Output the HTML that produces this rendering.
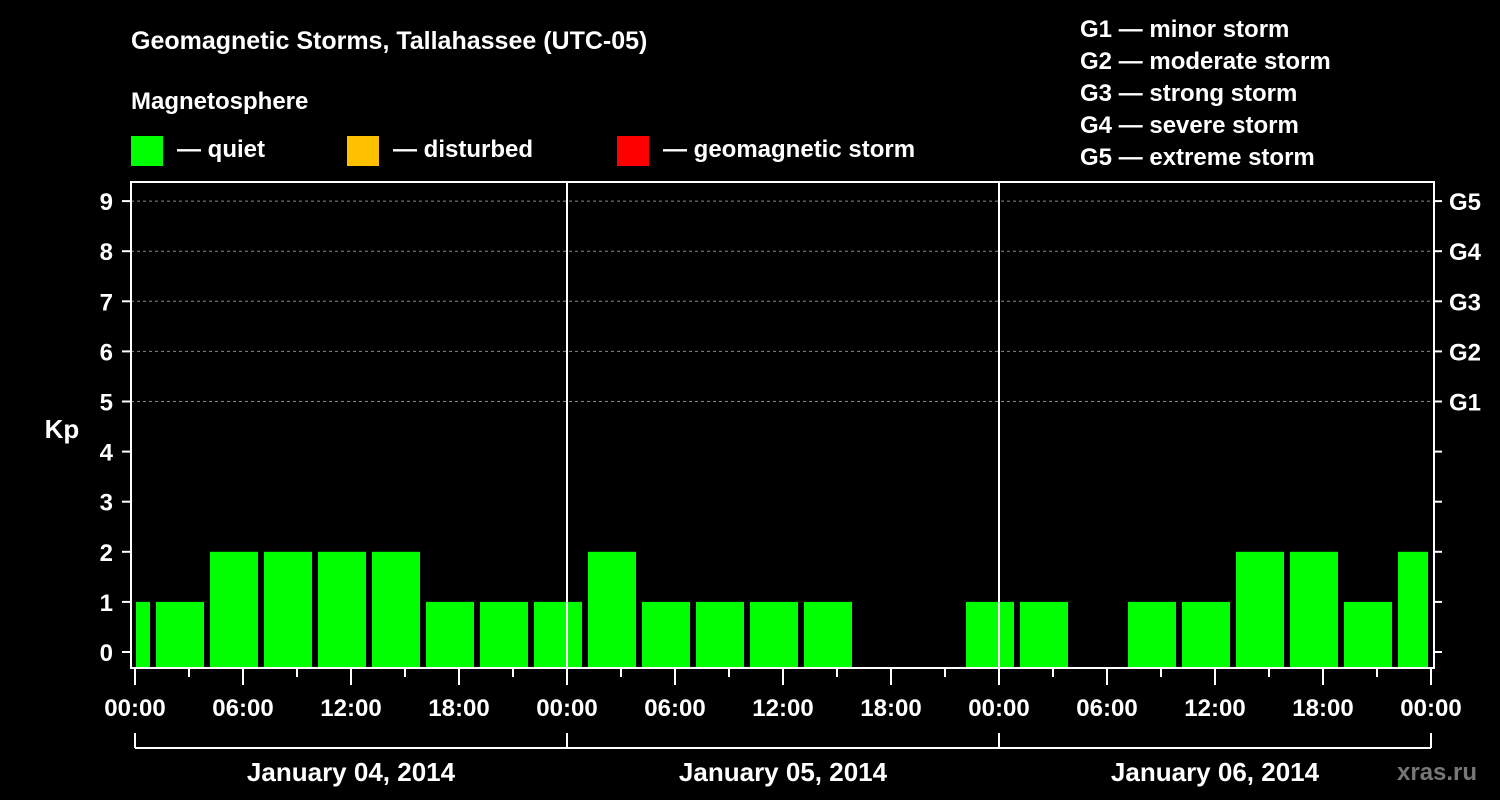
<!DOCTYPE html>
<html><head><meta charset="utf-8"><style>
body{margin:0;background:#000;width:1500px;height:800px;overflow:hidden}
svg{display:block;font-family:"Liberation Sans",sans-serif;font-weight:bold}
</style></head><body>
<svg id="c" width="1500" height="800" xmlns="http://www.w3.org/2000/svg">
<rect width="1500" height="800" fill="#000"/>
<text x="131" y="49" fill="#fff" font-size="25">Geomagnetic Storms, Tallahassee (UTC-05)</text>
<text x="131" y="109" fill="#fff" font-size="24">Magnetosphere</text>
<g><rect x="131" y="136" width="32" height="30" fill="#00ff00"/><text x="177" y="157" fill="#fff" font-size="24">— quiet</text></g>
<g><rect x="347" y="136" width="32" height="30" fill="#ffc000"/><text x="393" y="157" fill="#fff" font-size="24">— disturbed</text></g>
<g><rect x="617" y="136" width="32" height="30" fill="#ff0000"/><text x="663" y="157" fill="#fff" font-size="24">— geomagnetic storm</text></g>
<g fill="#fff" font-size="24">
<text x="1080" y="37">G1 — minor storm</text>
<text x="1080" y="69">G2 — moderate storm</text>
<text x="1080" y="101">G3 — strong storm</text>
<text x="1080" y="133">G4 — severe storm</text>
<text x="1080" y="165">G5 — extreme storm</text>
</g>
<text x="62" y="438" fill="#fff" font-size="26" text-anchor="middle">Kp</text>
<g id="grid"></g><g id="bars"></g><g id="axes"></g>
<text x="1397" y="780" fill="#777" font-size="24">xras.ru</text>
</svg>
<script>
const barValues=[1,1,2,2,2,2,1,1,1,2,1,1,1,1,0,0,1,1,0,1,1,2,2,1,2];
const barStartHours=[-2,1,4,7,10,13,16,19,22,25,28,31,34,37,40,43,46,49,52,55,58,61,64,67,70];
const yTicks=[0,1,2,3,4,5,6,7,8,9];
const gLabels=["G1","G2","G3","G4","G5"];
const xTickLabels=["00:00","06:00","12:00","18:00","00:00","06:00","12:00","18:00","00:00","06:00","12:00","18:00","00:00"];
const dayLabels=["January 04, 2014","January 05, 2014","January 06, 2014"];
const NS="http://www.w3.org/2000/svg";
const L=131,R=1434,T=182,B=668,X0=135,PXH=18;
const x=h=>X0+h*PXH, y=k=>652-k*50.1;
function mk(tag,attrs,parent,txt){const e=document.createElementNS(NS,tag);for(const k in attrs)e.setAttribute(k,attrs[k]);if(txt!==undefined)e.textContent=txt;parent.appendChild(e);return e;}
const grid=document.getElementById('grid'),bars=document.getElementById('bars'),axes=document.getElementById('axes');
yTicks.forEach(k=>{if(k>=5){const g=mk('line',{x1:L,x2:R,y1:y(k),y2:y(k),stroke:'#888','stroke-dasharray':'3,3','stroke-width':1},grid);

}});
barValues.forEach((v,i)=>{if(v<=0)return;let a=x(barStartHours[i])+3,b=x(barStartHours[i]+3)-3;a=Math.max(a,136);b=Math.min(b,1428);
const r=mk('rect',{x:a,y:y(v),width:b-a,height:667-y(v),fill:'#00ff00'},bars);

});
// day dividers
[1,2].forEach(d=>{const l=mk('line',{x1:x(24*d),x2:x(24*d),y1:T,y2:B,stroke:'#fff','stroke-width':2},axes);

});
const fr=mk('rect',{x:L,y:T,width:R-L,height:B-T,fill:'none',stroke:'#fff','stroke-width':2},axes);


yTicks.forEach(k=>{mk('line',{x1:122,x2:L,y1:y(k),y2:y(k),stroke:'#fff','stroke-width':2},axes);mk('line',{x1:R,x2:1442,y1:y(k),y2:y(k),stroke:'#fff','stroke-width':2},axes);
const t=mk('text',{x:113,y:y(k)+9,fill:'#fff','font-size':24,'text-anchor':'end'},axes,k);

});
gLabels.forEach((g,i)=>{const t=mk('text',{x:1449,y:y(5+i)+9,fill:'#fff','font-size':24},axes,g);

});
for(let h=0;h<=72;h+=3){const major=h%6===0;mk('line',{x1:x(h),x2:x(h),y1:B,y2:B+(major?17:9),stroke:'#fff','stroke-width':2},axes);}
xTickLabels.forEach((s,i)=>{const t=mk('text',{x:x(i*6),y:716,fill:'#fff','font-size':24,'text-anchor':'middle'},axes,s);

});
mk('line',{x1:x(0),x2:x(72),y1:748,y2:748,stroke:'#fff','stroke-width':2},axes);
for(let d=0;d<=3;d++)mk('line',{x1:x(24*d),x2:x(24*d),y1:733,y2:748,stroke:'#fff','stroke-width':2},axes);
dayLabels.forEach((s,i)=>{const t=mk('text',{x:x(24*i+12),y:781,fill:'#fff','font-size':26,'text-anchor':'middle'},axes,s);

});
</script>
</body></html>
